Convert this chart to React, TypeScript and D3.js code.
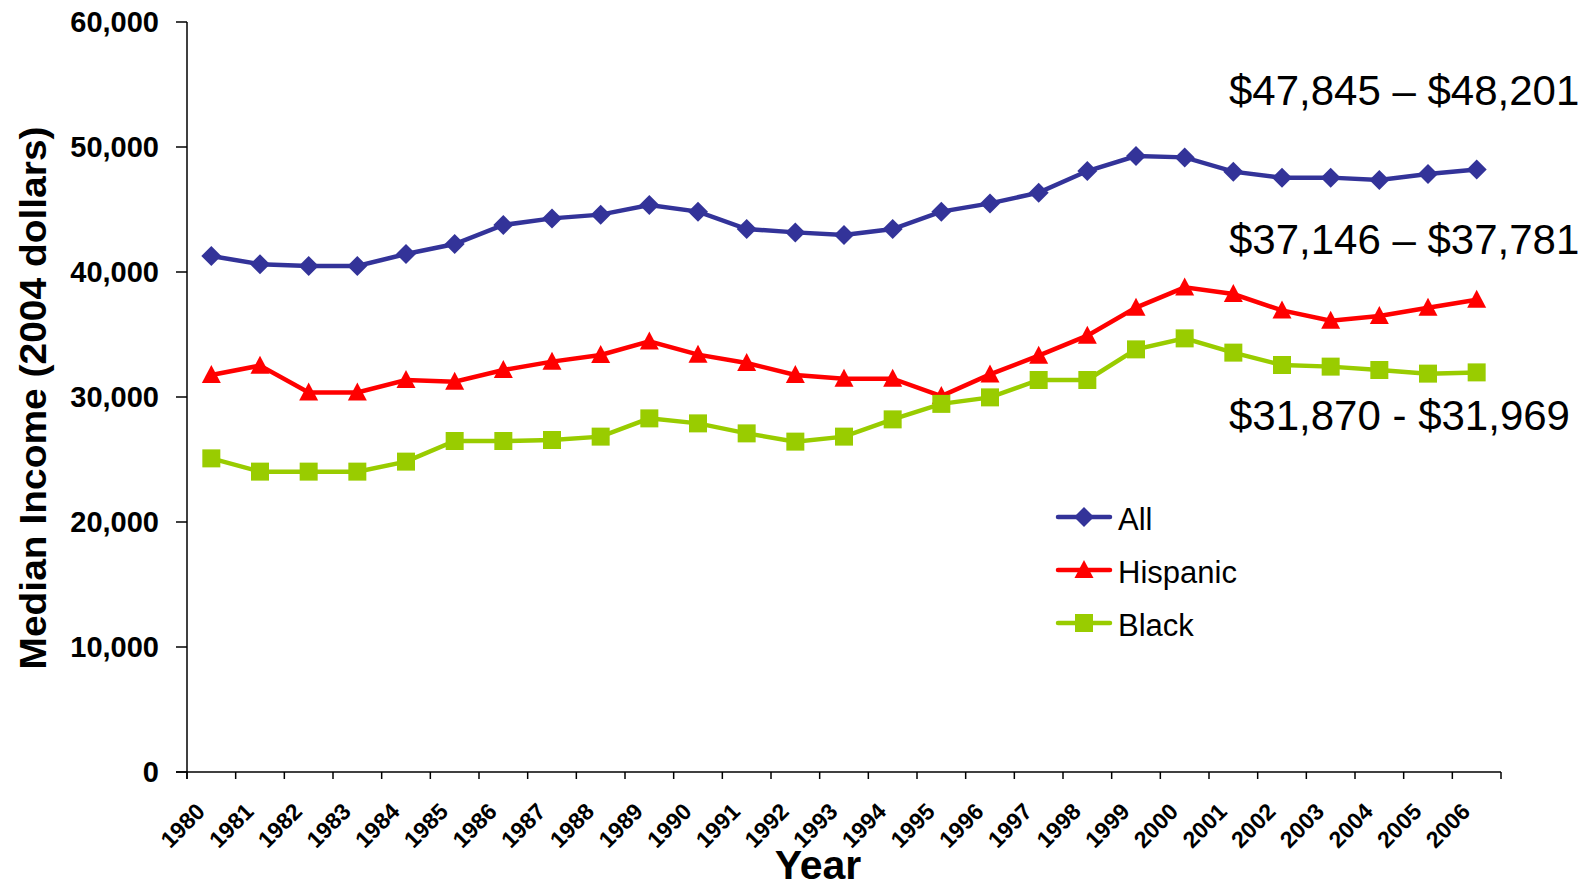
import * as d3 from 'd3';

const years = d3.range(1980, 2007).map(String);

const allIncome = [
  41280, 40620, 40480, 40480, 41440, 42240, 43760, 44290, 44590,
  45360, 44830, 43440, 43170, 42960, 43440, 44830, 45490, 46350,
  48080, 49280, 49170, 48030, 47550, 47550, 47360, 47845, 48201,
];

const hispanicIncome = [
  31760, 32510, 30370, 30370, 31360, 31230, 32160, 32830, 33360,
  34450, 33390, 32720, 31760, 31470, 31470, 30080, 31810, 33310,
  34910, 37150, 38770, 38240, 36930, 36110, 36480, 37146, 37781,
];

const blackIncome = [
  25090, 24030, 24030, 24030, 24830, 26480, 26480, 26560, 26830,
  28290, 27890, 27090, 26430, 26830, 28210, 29450, 29970, 31360,
  31360, 33810, 34690, 33550, 32560, 32430, 32160, 31870, 31969,
];

const yTicks = [0, 10000, 20000, 30000, 40000, 50000, 60000];

const annotations = ['$47,845 \u2013 $48,201', '$37,146 \u2013 $37,781', '$31,870 - $31,969'];

const W = 1592;
const H = 888;

type Shape = 'diamond' | 'triangle' | 'square';

const markerPath = (shape: Shape) => {
  if (shape === 'diamond') return 'M0,-10L10,0L0,10L-10,0Z';
  if (shape === 'triangle') return 'M0,-10L9.5,8L-9.5,8Z';
  return 'M-9,-9H9V9H-9Z';
};

const series = [
  { name: 'All', values: allIncome, color: '#333399', shape: 'diamond' as Shape },
  { name: 'Hispanic', values: hispanicIncome, color: '#FF0000', shape: 'triangle' as Shape },
  { name: 'Black', values: blackIncome, color: '#99CC00', shape: 'square' as Shape },
];

export default function App() {
  const x = d3.scaleBand<string>().domain(years).range([187, 1501]).padding(0);
  const y = d3.scaleLinear().domain([0, 60000]).range([772, 22]);
  const cx = (yr: string) => (x(yr) as number) + x.bandwidth() / 2;
  const fmt = d3.format(',');

  const line = d3
    .line<number>()
    .x((_, i) => cx(years[i]))
    .y((d) => y(d));

  const boundaries = years.map((yr) => x(yr) as number).concat([1501]);

  return (
    <svg
      width={W}
      height={H}
      style={{ position: 'absolute', left: 0, top: 0, background: '#fff' }}
      fontFamily="'Liberation Sans', Arial, sans-serif"
    >
      {/* axes */}
      <line x1={187} x2={187} y1={y(60000)} y2={779} stroke="#000" strokeWidth={1.5} />
      <line x1={176} x2={1501} y1={y(0)} y2={y(0)} stroke="#000" strokeWidth={1.5} />
      {yTicks.map((t) => (
        <g key={t}>
          <line x1={176} x2={187} y1={y(t)} y2={y(t)} stroke="#000" strokeWidth={1.5} />
          <text
            x={159}
            y={y(t)}
            dy="0.36em"
            textAnchor="end"
            fontSize={29}
            fontWeight="bold"
          >
            {fmt(t)}
          </text>
        </g>
      ))}
      {boundaries.map((b, i) => (
        <line key={i} x1={b} x2={b} y1={y(0)} y2={779} stroke="#000" strokeWidth={1.5} />
      ))}
      {years.map((yr) => (
        <text
          key={yr}
          transform={`translate(${cx(yr) - 5},${813}) rotate(-45)`}
          textAnchor="end"
          fontSize={23}
          fontWeight="bold"
        >
          {yr}
        </text>
      ))}
      <text x={818} y={879} textAnchor="middle" fontSize={41} fontWeight="bold">
        Year
      </text>
      <text
        transform={`translate(46,398) rotate(-90)`}
        textAnchor="middle"
        fontSize={36}
        fontWeight="bold"
        textLength={543}
        lengthAdjust="spacingAndGlyphs"
      >
        Median Income (2004 dollars)
      </text>

      {/* series */}
      {series.map((s) => (
        <g key={s.name}>
          <path d={line(s.values) ?? ''} fill="none" stroke={s.color} strokeWidth={4.5} />
          {s.values.map((v, i) => (
            <path
              key={i}
              transform={`translate(${cx(years[i])},${y(v)})`}
              d={markerPath(s.shape)}
              fill={s.color}
            />
          ))}
        </g>
      ))}

      {/* annotations */}
      <text x={1229} y={105} fontSize={42}>{annotations[0]}</text>
      <text x={1229} y={254} fontSize={42}>{annotations[1]}</text>
      <text x={1229} y={430} fontSize={42}>{annotations[2]}</text>

      {/* legend */}
      {series.map((s, i) => {
        const ly = 517 + i * 53;
        return (
          <g key={s.name}>
            <line x1={1058} x2={1110} y1={ly} y2={ly} stroke={s.color} strokeWidth={4.5} strokeLinecap="round" />
            <path transform={`translate(1084,${ly})`} d={markerPath(s.shape)} fill={s.color} />
            <text x={1118} y={ly + 13} fontSize={31}>
              {s.name}
            </text>
          </g>
        );
      })}
    </svg>
  );
}
